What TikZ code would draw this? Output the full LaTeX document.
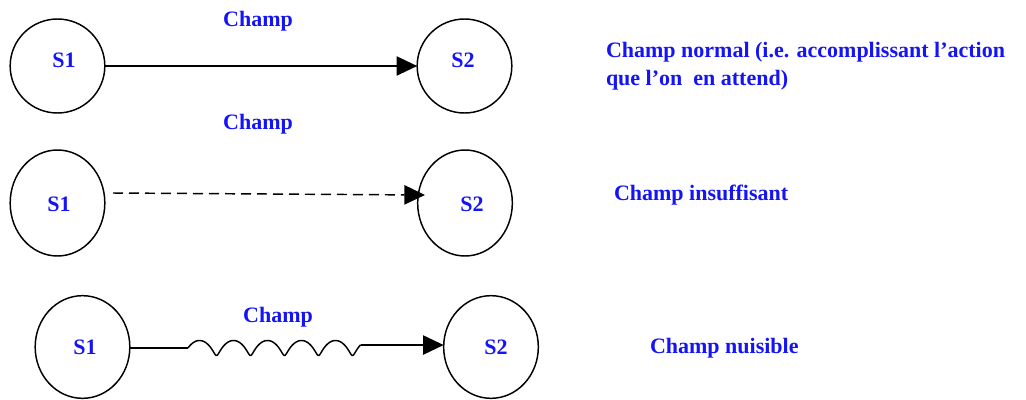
\documentclass[tikz,border=0pt]{standalone}
\usepackage{fontspec}
\setmainfont{Liberation Serif}
\usetikzlibrary{arrows.meta,shapes.geometric}
\definecolor{lblue}{RGB}{20,20,245}
\begin{document}
\begin{tikzpicture}[x=0.75pt,y=-0.75pt,
  every node/.style={inner sep=0pt,outer sep=0pt},
  sys/.style={draw=black,line width=1.1pt,ellipse,minimum width=71pt},
  lab/.style={text=lblue,font=\fontsize{16.5pt}{19.5pt}\selectfont\bfseries,anchor=base},
  side/.style={lab,anchor=base west,align=left},
  conn/.style={line width=1.1pt,-{Triangle[length=15.5pt,width=14.5pt]}},
  plain/.style={line width=1.1pt}]
\useasboundingbox (0,0) rectangle (1026,400);
% row 1
\node[sys,minimum height=70.5pt] (a1) at (57.5,66) {};
\node[sys,minimum height=70.5pt] (b1) at (464.5,66) {};
\node[lab] (ta1) at (64,67) {S1};
\node[lab] (tb1) at (463,67) {S2};
\node[lab] (c1) at (258,26) {Champ};
\draw[conn] (a1.east) -- (b1.west);
\node[side] (d1) at (606,85) {Champ normal (i.e. accomplissant l’action\\[1pt]que l’on\ \ en attend)};
% row 2
\node[sys,minimum height=79.5pt] (a2) at (57.5,203) {};
\node[sys,minimum height=79.5pt] (b2) at (465,203) {};
\node[lab] (ta2) at (59,211) {S1};
\node[lab] (tb2) at (472,211) {S2};
\node[lab] (c2) at (258,129) {Champ};
\coordinate (s2) at (113,193);
\coordinate (e2) at (425,195);
\draw[conn,dashed,dash pattern=on 7.5pt off 4.5pt] (s2) -- (e2);
\node[side] (d2) at (614,200) {Champ insuffisant};
% row 3
\node[sys,minimum height=77pt] (a3) at (82.5,347) {};
\node[sys,minimum height=77pt] (b3) at (491,347) {};
\node[lab] (ta3) at (85,354) {S1};
\node[lab] (tb3) at (496,354) {S2};
\node[lab] (c3) at (278,322) {Champ};
\coordinate (w1) at (188,348);
\coordinate (w2) at (360.64,345.04);
\draw[plain] (a3.east |- w1) -- (w1);
\draw[plain,shift={(w1)}] plot[domain=0:1825,samples=241,smooth] ({\x/360*34+3*(1-cos(\x))},{-7.5*sin(\x)});
\draw[conn] (w2) -- (b3.west |- w2);
\node[side] (d3) at (650,353) {Champ nuisible};
\end{tikzpicture}
\end{document}
